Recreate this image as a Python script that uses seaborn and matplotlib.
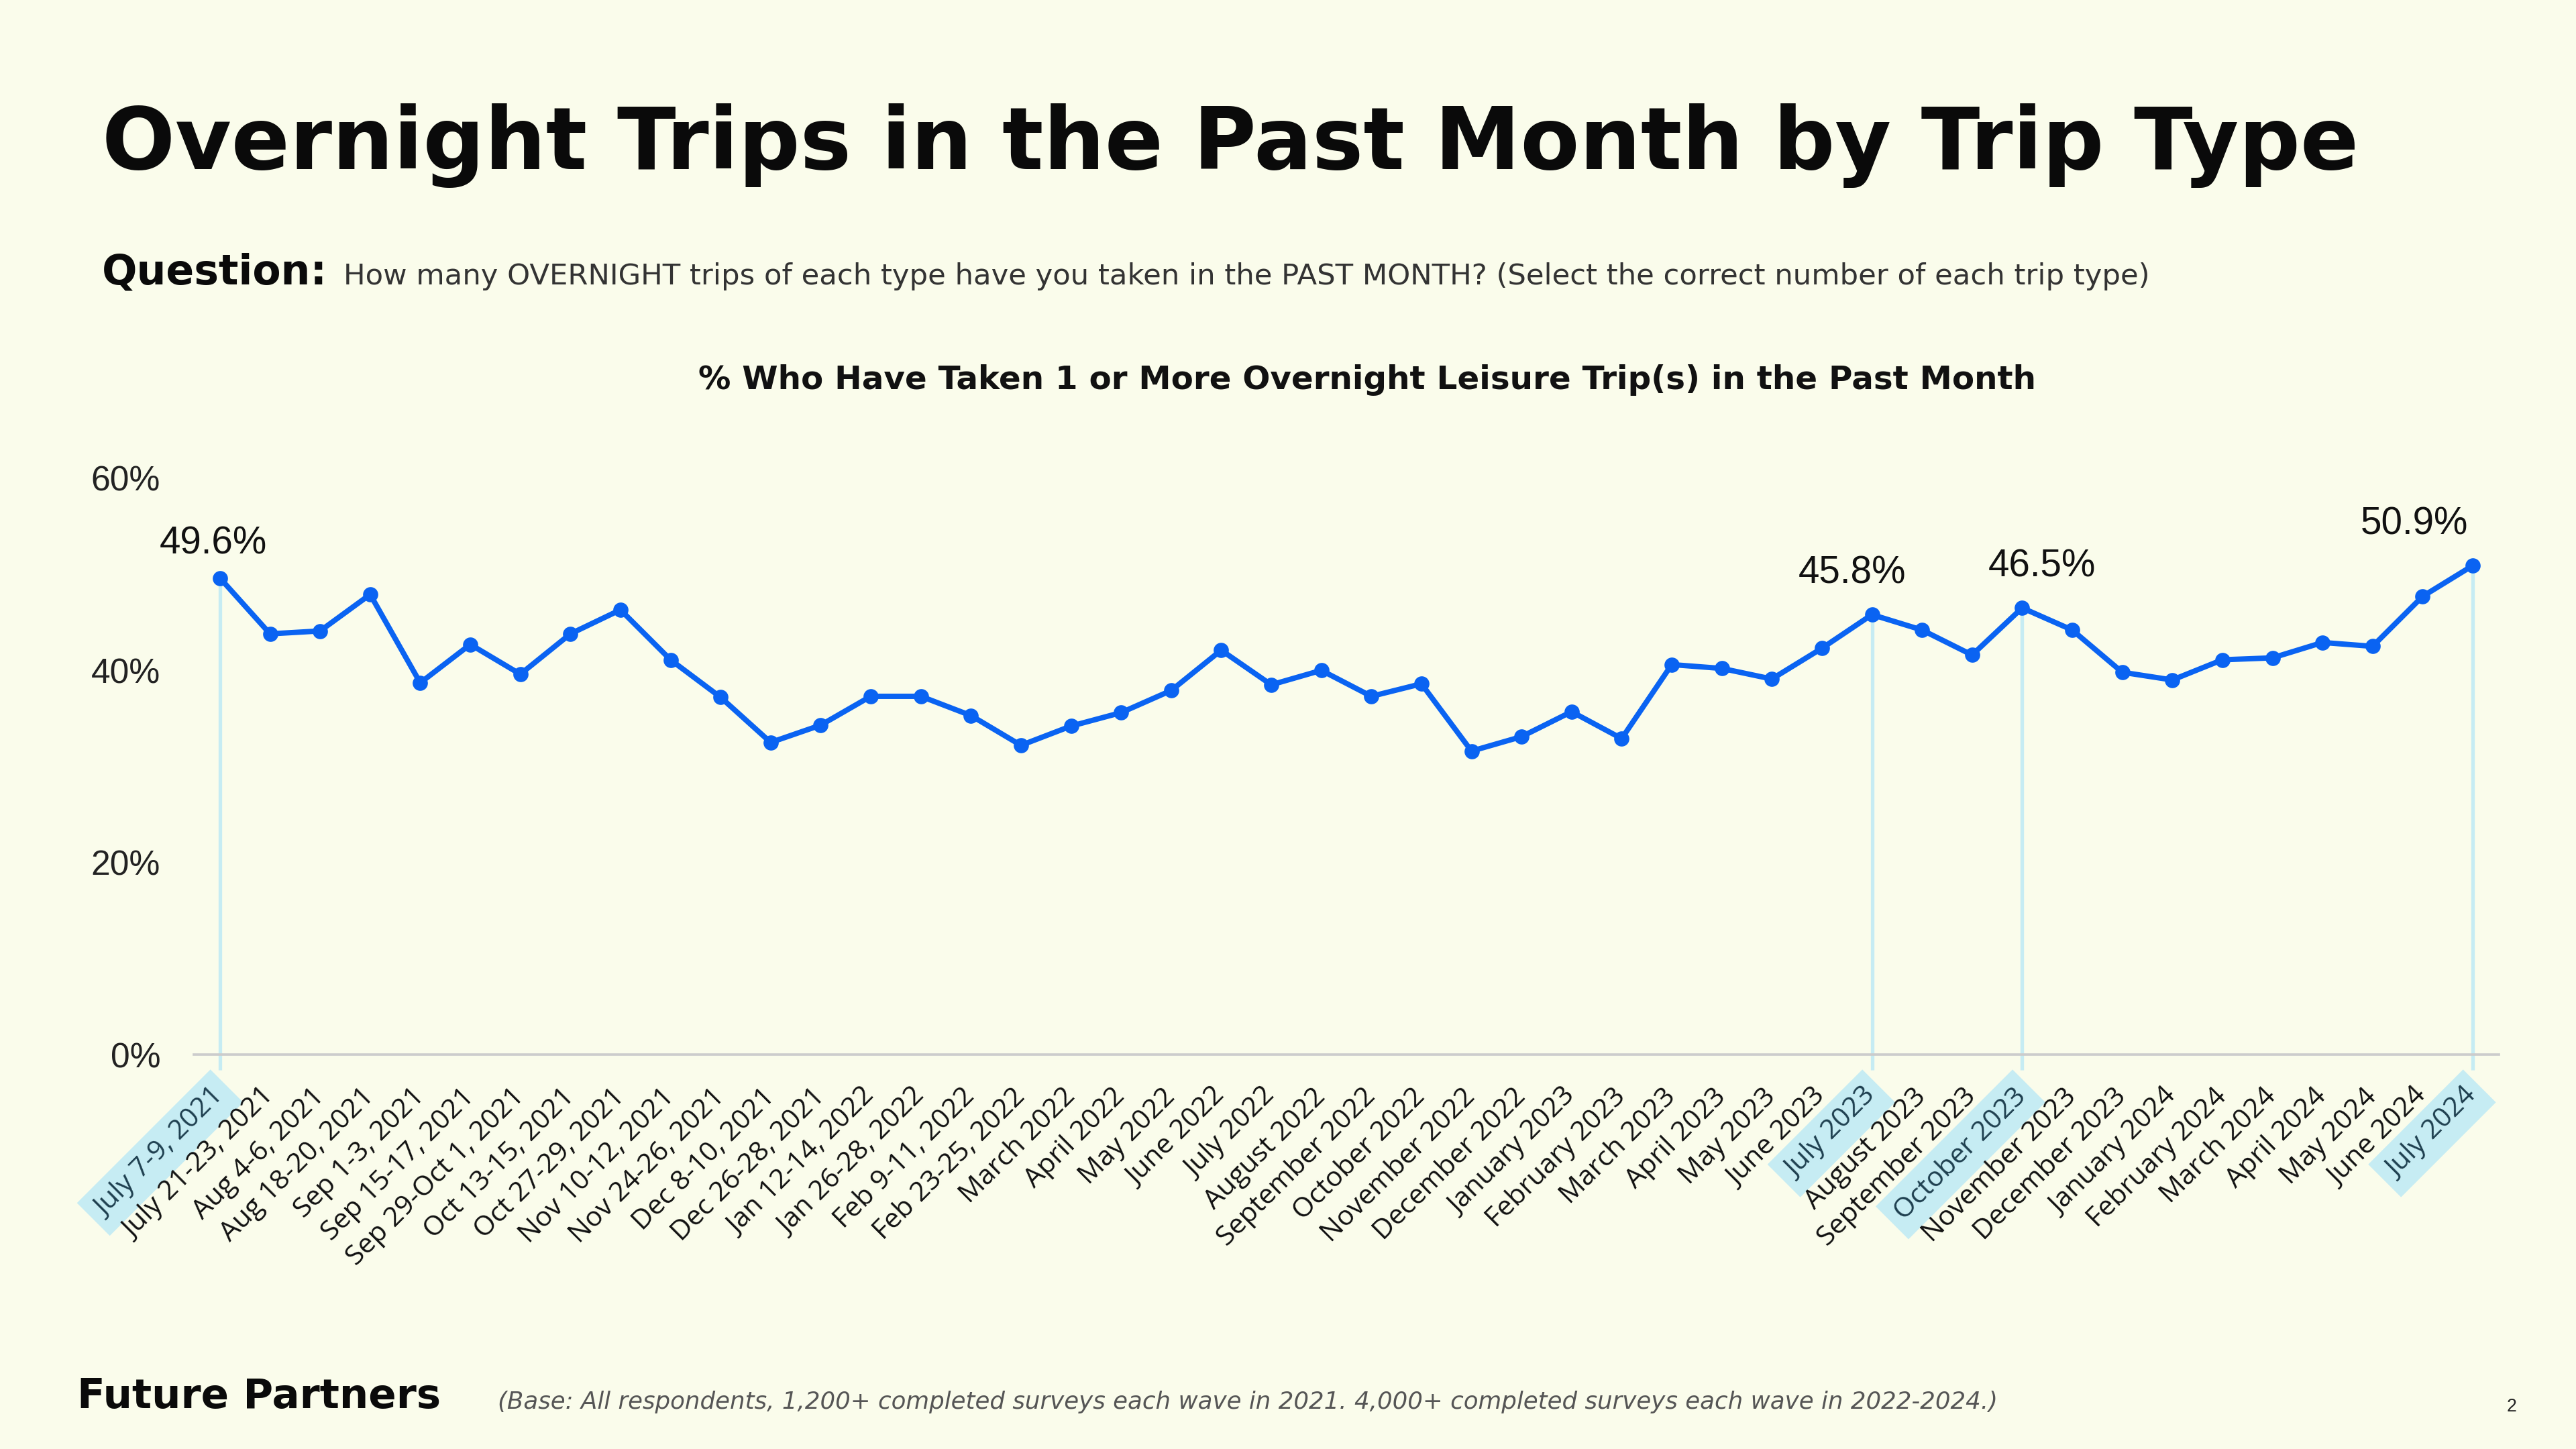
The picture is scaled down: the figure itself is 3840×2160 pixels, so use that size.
import matplotlib
matplotlib.use("Agg")
import matplotlib.pyplot as plt
import pandas as pd
import seaborn as sns

# Survey waves and share (%) who took 1+ overnight leisure trip in the past month
waves = [
    "July 7-9, 2021", "July 21-23, 2021", "Aug 4-6, 2021", "Aug 18-20, 2021",
    "Sep 1-3, 2021", "Sep 15-17, 2021", "Sep 29-Oct 1, 2021", "Oct 13-15, 2021",
    "Oct 27-29, 2021", "Nov 10-12, 2021", "Nov 24-26, 2021", "Dec 8-10, 2021",
    "Dec 26-28, 2021", "Jan 12-14, 2022", "Jan 26-28, 2022", "Feb 9-11, 2022",
    "Feb 23-25, 2022", "March 2022", "April 2022", "May 2022", "June 2022",
    "July 2022", "August 2022", "September 2022", "October 2022",
    "November 2022", "December 2022", "January 2023", "February 2023",
    "March 2023", "April 2023", "May 2023", "June 2023", "July 2023",
    "August 2023", "September 2023", "October 2023", "November 2023",
    "December 2023", "January 2024", "February 2024", "March 2024",
    "April 2024", "May 2024", "June 2024", "July 2024",
]
pct = [
    49.6, 43.8, 44.1, 47.9, 38.7, 42.7, 39.6, 43.8, 46.3, 41.1, 37.2, 32.5,
    34.3, 37.3, 37.3, 35.3, 32.2, 34.2, 35.6, 37.9, 42.1, 38.5, 40.0, 37.3,
    38.6, 31.6, 33.1, 35.7, 32.9, 40.6, 40.2, 39.1, 42.3, 45.8, 44.2, 41.6,
    46.5, 44.2, 39.8, 39.0, 41.1, 41.3, 42.9, 42.5, 47.7, 50.9,
]
highlight = ["July 7-9, 2021", "July 2023", "October 2023", "July 2024"]
# label offsets in points (dx, dy) for the highlighted waves
label_offsets = [(-3, 11), (-9, 14), (9, 14), (-26, 14)]
y_ticks = [0, 20, 40, 60]

df = pd.DataFrame({"wave": waves, "pct": pct})
df["pos"] = range(len(df))

BG = "#FAFCEB"
BLUE = "#0A63F2"
CYAN = "#C6ECF3"

sns.set_theme(style="white", rc={"axes.facecolor": BG, "figure.facecolor": BG})
plt.rcParams["font.family"] = ["Liberation Sans", "DejaVu Sans"]

fig = plt.figure(figsize=(16, 9), dpi=240)
ax = fig.add_axes([0.0753, 0.2721, 0.8947, 0.3979])

# highlight stems
for name in highlight:
    i = waves.index(name)
    ax.vlines(i, -1.6, pct[i], color=CYAN, lw=1.6, zorder=1, clip_on=False)

sns.lineplot(data=df, x="pos", y="pct", ax=ax, color=BLUE, lw=2.4,
             marker="o", markersize=6.8, markeredgewidth=0, zorder=3)
for l in ax.lines:
    l.set_clip_on(False)

for name, (dx, dy) in zip(highlight, label_offsets):
    i = waves.index(name)
    ax.annotate(f"{pct[i]:.1f}%", xy=(i, pct[i]), xytext=(dx, dy),
                textcoords="offset points", ha="center", va="baseline",
                fontsize=17, color="#111111")

ax.set_xlim(-0.52, len(waves) - 0.48)
ax.set_ylim(0, 60)
ax.set_yticks(y_ticks)
ax.set_yticklabels([f"{t}%" for t in y_ticks], fontsize=15.5, color="#222222")
ax.set_xticks(df["pos"])
ax.set_xticklabels(waves, rotation=45, ha="right", va="center",
                   rotation_mode="anchor", fontsize=12.3, family="Open Sans",
                   color="#111111")
ax.tick_params(axis="x", length=0, pad=17)
ax.tick_params(axis="y", length=0, pad=15)
for lab in ax.get_xticklabels():
    if lab.get_text() in highlight:
        lab.set_color("#1E3F4F")
        lab.set_bbox(dict(boxstyle="square,pad=0.35", fc=CYAN, ec="none"))
ax.set_xlabel("")
ax.set_ylabel("")
for s in ["top", "right", "left"]:
    ax.spines[s].set_visible(False)
ax.spines["bottom"].set_color("#CCCCCC")
ax.spines["bottom"].set_linewidth(1.1)
ax.grid(False)

# titles and notes
fig.text(0.0395, 0.8832, "Overnight Trips in the Past Month by Trip Type",
         fontsize=38.5, fontweight="bold", family="DejaVu Sans", color="#0A0A0A",
         va="baseline")
fig.text(0.0395, 0.8039, "Question:", fontsize=18.5, fontweight="bold",
         family="DejaVu Sans", color="#0A0A0A", va="baseline")
fig.text(0.1333, 0.8039,
         "How many OVERNIGHT trips of each type have you taken in the PAST MONTH? "
         "(Select the correct number of each trip type)",
         fontsize=13, family="DejaVu Sans", color="#333333", va="baseline")
fig.text(0.5306, 0.7313,
         "% Who Have Taken 1 or More Overnight Leisure Trip(s) in the Past Month",
         fontsize=14.5, fontweight="bold", family="DejaVu Sans", color="#111111",
         ha="center", va="baseline")
fig.text(0.030, 0.0283, "Future Partners", fontsize=18.3, fontweight="bold",
         family="DejaVu Sans", color="#0A0A0A", va="baseline")
fig.text(0.1932, 0.028,
         "(Base: All respondents, 1,200+ completed surveys each wave in 2021. "
         "4,000+ completed surveys each wave in 2022-2024.)",
         fontsize=10.7, style="italic", family="DejaVu Sans", color="#555555",
         va="baseline")
fig.text(0.9732, 0.026, "2", fontsize=8, color="#222222", va="baseline")

fig.savefig("out.png", dpi=240, facecolor=BG)
